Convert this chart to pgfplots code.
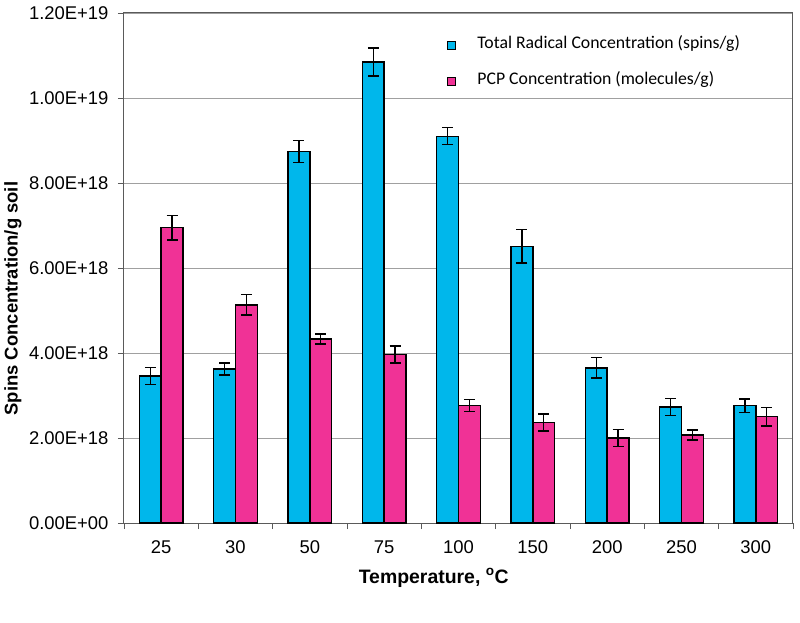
\documentclass[border=0pt]{standalone}
\usepackage{pgfplots}
\pgfplotsset{compat=1.18}
\usepackage{fontspec}
\setmainfont{Liberation Sans}
\newfontfamily\calibri{Carlito}
\definecolor{cblue}{RGB}{0,183,235}
\definecolor{cpink}{RGB}{240,50,150}
\definecolor{axgray}{RGB}{90,90,90}
\definecolor{grgray}{RGB}{160,160,160}
\begin{document}
\begin{tikzpicture}
\path (-124bp,-100bp) rectangle (676bp,523bp);
\begin{axis}[
  at={(0,0)}, anchor=south west,
  width=669bp, height=510bp, scale only axis,
  xmin=-0.5, xmax=8.5, ymin=0, ymax=12,
  ybar=0pt, bar width=21.8bp,
  xtick={-0.5,0.5,...,8.5}, xticklabels={},
  extra x ticks={0,1,2,3,4,5,6,7,8},
  extra x tick labels={25,30,50,75,100,150,200,250,300},
  extra x tick style={major tick length=0pt, grid=none},
  xtick pos=bottom, ytick pos=left,
  ytick={0,2,4,6,8,10,12},
  yticklabels={0.00E+00,2.00E+18,4.00E+18,6.00E+18,8.00E+18,1.00E+19,1.20E+19},
  tick align=outside, major tick length=6bp,
  tick style={axgray, line width=0.8bp},
  axis line style={axgray, line width=1bp},
  ymajorgrids, grid style={grgray, line width=0.8bp},
  /pgf/number format/assume math mode=true,
  ticklabel style={font=\fontsize{18.5}{20}\selectfont},
  yticklabel style={xshift=-6bp},
  extra x tick style={ticklabel style={yshift=-14bp}},
  xlabel={Temperature, \textsuperscript{o}C},
  ylabel={Spins Concentration/g soil},
  every axis x label/.style={at={(axis description cs:0.463,-0.108)}, anchor=center, font=\fontsize{19.5}{21}\selectfont\bfseries},
  every axis y label/.style={at={(axis description cs:-0.166,0.44)}, anchor=center, rotate=90, font=\fontsize{18.5}{20}\selectfont\bfseries},
  legend style={draw=none, fill=none, at={(axis description cs:0.483,0.957)}, anchor=north west, inner sep=0pt,
    font=\calibri\fontsize{17.8}{20}\selectfont, row sep=19bp,
    nodes={inner sep=0pt, text height=13bp, text depth=4bp, anchor=west},
    /tikz/every odd column/.append style={column sep=21bp}},
  legend cell align=left,
  legend image code/.code={\draw[#1, draw=black, line width=1.1bp] (0bp,-6bp) rectangle (8bp,2bp);},
  error bars/error bar style={black, line width=1.4bp},
  error bars/error mark options={rotate=90, mark size=5.5bp, line width=1.4bp, black},
]
\addplot[fill=cblue, draw=black, line width=1.4bp,
  error bars/.cd, y dir=both, y explicit]
  coordinates {
  (0,3.46) +- (0,0.20)
  (1,3.62) +- (0,0.14)
  (2,8.74) +- (0,0.26)
  (3,10.85) +- (0,0.33)
  (4,9.10) +- (0,0.20)
  (5,6.51) +- (0,0.39)
  (6,3.65) +- (0,0.24)
  (7,2.73) +- (0,0.20)
  (8,2.76) +- (0,0.16)
  };
\addplot[fill=cpink, draw=black, line width=1.4bp,
  error bars/.cd, y dir=both, y explicit]
  coordinates {
  (0,6.95) +- (0,0.29)
  (1,5.13) +- (0,0.24)
  (2,4.33) +- (0,0.12)
  (3,3.96) +- (0,0.20)
  (4,2.77) +- (0,0.14)
  (5,2.36) +- (0,0.20)
  (6,2.00) +- (0,0.20)
  (7,2.07) +- (0,0.12)
  (8,2.50) +- (0,0.22)
  };
\legend{Total Radical Concentration (spins/g), PCP Concentration (molecules/g)}
\end{axis}
\end{tikzpicture}
\end{document}
